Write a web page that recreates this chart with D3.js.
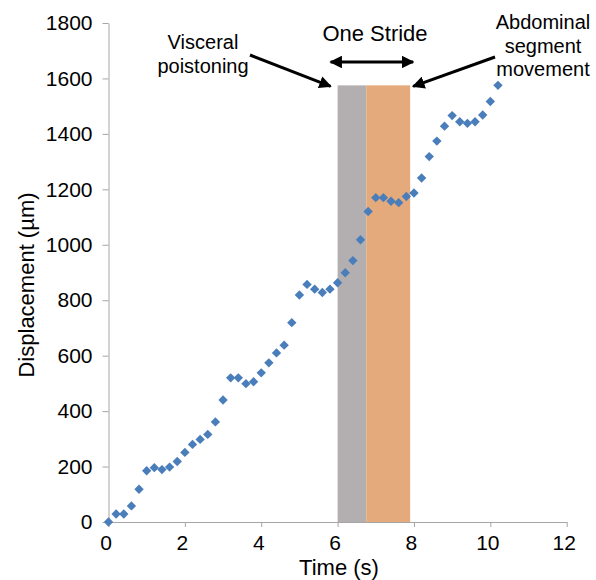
<!DOCTYPE html>
<html>
<head>
<meta charset="utf-8">
<script src="https://cdn.jsdelivr.net/npm/d3@7"></script>
<style>
  body { margin: 0; background: #fff; }
  svg text { font-family: "Liberation Sans", Arial, sans-serif; fill: #000; }
</style>
</head>
<body>
<svg id="chart" width="596" height="580"></svg>
<script>
// time (s) of each sample
var times = [0, 0.2, 0.4, 0.6, 0.8, 1.0, 1.2, 1.4, 1.6, 1.8,
             2.0, 2.2, 2.4, 2.6, 2.8, 3.0, 3.2, 3.4, 3.6, 3.8,
             4.0, 4.2, 4.4, 4.6, 4.8, 5.0, 5.2, 5.4, 5.6, 5.8,
             6.0, 6.2, 6.4, 6.6, 6.8, 7.0, 7.2, 7.4, 7.6, 7.8,
             8.0, 8.2, 8.4, 8.6, 8.8, 9.0, 9.2, 9.4, 9.6, 9.8,
             10.0, 10.2];
// displacement (um)
var displacement = [0, 29, 29, 58, 118, 185, 196, 189, 198, 218,
                    251, 280, 298, 316, 361, 440, 520, 520, 499, 506,
                    538, 574, 610, 638, 719, 819, 857, 840, 828, 840,
                    863, 899, 943, 1018, 1120, 1170, 1170, 1157, 1152, 1174,
                    1187, 1241, 1318, 1374, 1428, 1466, 1444, 1438, 1444, 1468,
                    1517, 1575];
// stride phases: [start, end] in seconds
var visceralPhase = [6.0, 6.75];
var abdominalPhase = [6.75, 7.9];
var strideTop = 1575;

var xTicks = [0, 2, 4, 6, 8, 10, 12];
var yTicks = [0, 200, 400, 600, 800, 1000, 1200, 1400, 1600, 1800];

var svg = d3.select('#chart');

var x = d3.scaleLinear().domain([0, 12]).range([108.5, 566.7]);
var y = d3.scaleLinear().domain([0, 1800]).range([522, 23]);

//stride bands
var bands = [
    {range: visceralPhase, colour: '#b3afb0'},
    {range: abdominalPhase, colour: '#e5aa7c'}
];
svg.append('g').selectAll('rect')
    .data(bands)
  .enter()
    .append('rect')
    .attr('x', function(d){ return x(d.range[0]); })
    .attr('width', function(d){ return x(d.range[1]) - x(d.range[0]); })
    .attr('y', y(strideTop))
    .attr('height', y(0) - y(strideTop))
    .attr('fill', function(d){ return d.colour; });

//axes
var xAxis = svg.append('g')
    .attr('transform', 'translate(0,' + y(0) + ')')
    .call(d3.axisBottom(x).tickValues(xTicks).tickSize(5).tickPadding(8).tickSizeOuter(0));
var yAxis = svg.append('g')
    .attr('transform', 'translate(' + x(0) + ',0)')
    .call(d3.axisLeft(y).tickValues(yTicks).tickFormat(d3.format('d'))
        .tickSize(6).tickPadding(10).tickSizeOuter(0));

[xAxis, yAxis].forEach(function(g){
    g.select('.domain').attr('stroke', '#a6a6a6');
    g.selectAll('.tick line').attr('stroke', '#a6a6a6');
    g.selectAll('.tick text').attr('font-size', 21).attr('fill', '#000')
        .style('font-family', '"Liberation Sans", Arial, sans-serif');
});
xAxis.selectAll('.tick text').attr('dx', -3);

//points
var pts = times.map(function(t, i){ return {t: t, v: displacement[i]}; });
svg.append('g').selectAll('path')
    .data(pts)
  .enter()
    .append('path')
    .attr('d', d3.symbol(d3.symbolSquare, 44)())
    .attr('transform', function(d){
        return 'translate(' + x(d.t) + ',' + y(d.v) + ') rotate(45)';
    })
    .attr('fill', '#4a7ebb');

//axis titles
svg.append('text')
    .attr('x', 339).attr('y', 575)
    .attr('text-anchor', 'middle')
    .attr('font-size', 22)
    .text('Time (s)');
svg.append('text')
    .attr('transform', 'translate(34,285) rotate(-90)')
    .attr('text-anchor', 'middle')
    .attr('font-size', 22)
    .text('Displacement (\u00b5m)');

//annotations
var defs = svg.append('defs');
defs.append('marker')
    .attr('id', 'head')
    .attr('viewBox', '0 0 10 10')
    .attr('refX', 9).attr('refY', 5)
    .attr('markerWidth', 4.2).attr('markerHeight', 4.2)
    .attr('orient', 'auto-start-reverse')
    .append('path')
    .attr('d', 'M0,0 L10,5 L0,10 Z')
    .attr('fill', '#000');

var strideLeft = x(visceralPhase[0]) - 7;
var strideRight = x(abdominalPhase[1]) + 3;
var strideY = y(strideTop);

svg.append('line')
    .attr('x1', 250).attr('y1', 55)
    .attr('x2', strideLeft).attr('y2', strideY + 1)
    .attr('stroke', '#000').attr('stroke-width', 3)
    .attr('marker-end', 'url(#head)');
svg.append('line')
    .attr('x1', 495).attr('y1', 57)
    .attr('x2', strideRight).attr('y2', strideY + 1)
    .attr('stroke', '#000').attr('stroke-width', 3)
    .attr('marker-end', 'url(#head)');
svg.append('line')
    .attr('x1', strideLeft).attr('y1', 62)
    .attr('x2', strideRight).attr('y2', 62)
    .attr('stroke', '#000').attr('stroke-width', 3)
    .attr('marker-start', 'url(#head)')
    .attr('marker-end', 'url(#head)');

svg.append('text')
    .attr('x', 375).attr('y', 41)
    .attr('text-anchor', 'middle')
    .attr('font-size', 22)
    .text('One Stride');

var notes = [
    {x: 203, y: 49, lines: ['Visceral', 'poistoning']},
    {x: 543, y: 29, lines: ['Abdominal', 'segment', 'movement']}
];
notes.forEach(function(n){
    var t = svg.append('text')
        .attr('text-anchor', 'middle')
        .attr('font-size', 20);
    n.lines.forEach(function(l, i){
        t.append('tspan').attr('x', n.x).attr('y', n.y + i * 23.5).text(l);
    });
});
</script>
</body>
</html>
